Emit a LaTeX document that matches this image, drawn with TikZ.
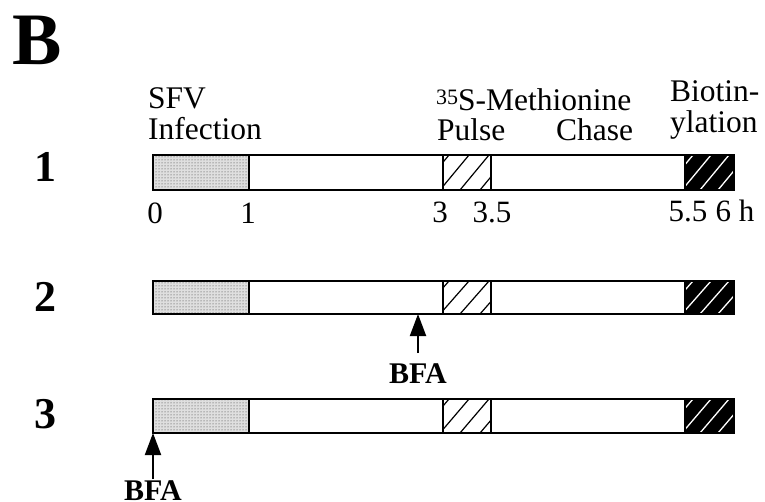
\documentclass[tikz,border=0pt]{standalone}
\usepackage{fontspec}
\setmainfont{Liberation Serif}
\usetikzlibrary{arrows.meta,patterns}
\begin{document}
\begin{tikzpicture}[x=1pt,y=-1pt,
  lab/.style={font=\fontsize{31.5}{33}\selectfont, inner sep=0pt, anchor=base west},
  num/.style={font=\fontsize{44}{46}\selectfont\bfseries, inner sep=0pt, anchor=base},
  bfa/.style={font=\fontsize{30}{32}\selectfont\bfseries, inner sep=0pt, anchor=base},
  tick/.style={font=\fontsize{31}{33}\selectfont, inner sep=0pt, anchor=base},
  bfaarrow/.style={line width=2pt, -{Triangle[width=16pt,length=22pt]}}]
\useasboundingbox (0,0) rectangle (765,502);
\fill[white] (0,0) rectangle (765,502);
\node[font=\fontsize{74}{76}\selectfont\bfseries, inner sep=0pt, anchor=base west] (B) at (12,65) {B};
\foreach \yt/\yb/\n/\nb in {155/190/1/182,281/314/2/312,399/433/3/428}{
  % stippled infection
  \fill[gray!25] (153,\yt) rectangle (249,\yb);
  \fill[pattern=dots, pattern color=black!80] (153,\yt) rectangle (249,\yb);
  % pulse hatch
  \begin{scope}
    \clip (443,\yt) rectangle (491,\yb);
    \foreach \k in {0,...,4} \draw[line width=1.2pt] ({420+\k*20},\yb) -- ++(29,{\yt-\yb});
  \end{scope}
  % biotinylation
  \fill[black] (685,\yt) rectangle (734,\yb);
  \begin{scope}
    \clip (685,\yt) rectangle (734,\yb);
    \foreach \k in {0,...,5} \draw[white, line width=1.3pt] ({664+\k*18},\yb) -- ++(29,{\yt-\yb});
  \end{scope}
  \draw[line width=2pt] (153,\yt) rectangle (734,\yb);
  \foreach \xx in {249,443,491,685} \draw[line width=1.4pt] (\xx,\yt) -- (\xx,\yb);
  \node[num] (n\n) at (45,\nb) {\n};
}
% top labels
\node[lab] (sfv) at (148,109) {SFV};
\node[lab] (inf) at (148,140) {Infection};
\node[lab] (met) at (436,111) {\raisebox{6pt}{\fontsize{22}{24}\selectfont 35}S-Methionine};
\node[lab] (pul) at (437,141) {Pulse};
\node[lab] (cha) at (556,141) {Chase};
\node[lab] (bio) at (670,102) {Biotin-};
\node[lab] (yla) at (670,133) {ylation};
% ticks
\node[tick] (t0) at (155,224) {0};
\node[tick] (t1) at (248,224) {1};
\node[tick] (t3) at (440,223) {3};
\node[tick] (t35) at (492,223) {3.5};
\node[tick] (t55) at (688,222) {5.5};
\node[tick] (t6) at (735,222) {6 h};
% BFA arrows
\node[bfa] (bfa2) at (418,383) {BFA};
\coordinate (tip2) at (418,314);
\draw[bfaarrow] (418,353) -- (tip2);
\node[bfa] (bfa3) at (153,500) {BFA};
\coordinate (tip3) at (153,433);
\draw[bfaarrow] (153,479) -- (tip3);
\end{tikzpicture}
\end{document}
